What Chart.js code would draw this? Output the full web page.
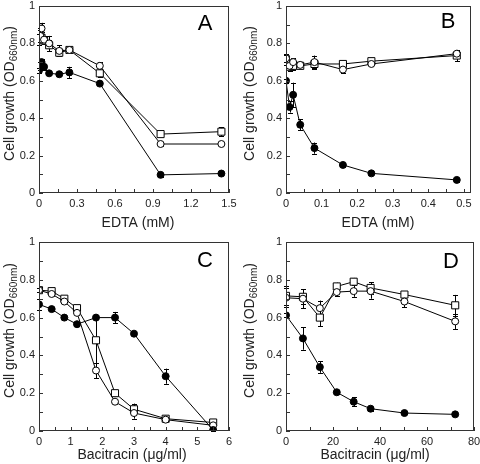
<!DOCTYPE html>
<html>
<head>
<meta charset="utf-8">
<script src="https://cdn.jsdelivr.net/npm/chart.js@4.4.0/dist/chart.umd.min.js"></script>
<style>
  body { margin: 0; background: #fff; }
  #wrap { position: relative; width: 480px; height: 464px; }
  canvas { position: absolute; }
</style>
</head>
<body>
<div id="wrap">
  <canvas id="chartA" width="240" height="232" style="left:0;top:0;width:240px;height:232px"></canvas>
  <canvas id="chartB" width="240" height="232" style="left:240px;top:0;width:240px;height:232px"></canvas>
  <canvas id="chartC" width="240" height="232" style="left:0;top:232px;width:240px;height:232px"></canvas>
  <canvas id="chartD" width="240" height="232" style="left:240px;top:232px;width:240px;height:232px"></canvas>
</div>
<script>
// ---- data ----
// panel A: EDTA (mM)
const edtaA = [0, 0.01, 0.02, 0.04, 0.08, 0.16, 0.24, 0.48, 0.96, 1.44];
const filledA = [0.655, 0.68, 0.70, 0.675, 0.64, 0.635, 0.645, 0.585, 0.097, 0.104];
const circleA = [0.82, 0.84, 0.88, 0.82, 0.80, 0.76, 0.765, 0.68, 0.262, 0.262];
const squareA = [0.82, 0.845, 0.83, 0.815, 0.79, 0.75, 0.765, 0.64, 0.315, 0.328];
const filledErrA = [0.015, 0.02, 0.015, 0.015, 0.01, 0.01, 0.03, 0.01, 0.01, 0.01];
const circleErrA = [0.03, 0.03, 0.03, 0.02, 0.04, 0.03, 0.01, 0.02, 0.01, 0.01];
const squareErrA = [0.03, 0.04, 0.03, 0.02, 0.03, 0.02, 0.01, 0.02, 0.01, 0.025];

// panel B: EDTA (mM)
const edtaB = [0, 0.01, 0.02, 0.04, 0.08, 0.16, 0.24, 0.48];
const filledB = [0.60, 0.46, 0.525, 0.365, 0.24, 0.15, 0.105, 0.07];
const circleB = [0.72, 0.68, 0.70, 0.685, 0.70, 0.66, 0.69, 0.745];
const squareB = [0.715, 0.675, 0.68, 0.68, 0.69, 0.69, 0.705, 0.735];
const filledErrB = [0.01, 0.03, 0.065, 0.03, 0.03, 0.01, 0.01, 0.01];
const circleErrB = [0.02, 0.03, 0.02, 0.015, 0.035, 0.02, 0.01, 0.02];
const squareErrB = [0.03, 0.02, 0.02, 0.01, 0.02, 0.01, 0.01, 0.03];

// panel C: Bacitracin (ug/ml)
const baciC = [0, 0.4, 0.8, 1.2, 1.8, 2.4, 3, 4, 5.5];
const filledC = [0.67, 0.645, 0.60, 0.565, 0.60, 0.60, 0.515, 0.29, 0.005];
const circleC = [0.745, 0.725, 0.685, 0.625, 0.32, 0.155, 0.095, 0.06, 0.03];
const squareC = [0.745, 0.74, 0.70, 0.65, 0.48, 0.20, 0.115, 0.065, 0.045];
const filledErrC = [0.03, 0.01, 0.01, 0.01, 0.01, 0.03, 0.01, 0.04, 0.005];
const circleErrC = [0.01, 0.01, 0.01, 0.01, 0.04, 0.01, 0.03, 0.01, 0.01];
const squareErrC = [0.01, 0.01, 0.01, 0.01, 0.12, 0.015, 0.03, 0.01, 0.01];

// panel D: Bacitracin (ug/ml)
const baciD = [0, 7.2, 14.4, 21.6, 28.8, 36, 50.4, 72];
const filledD = [0.612, 0.49, 0.338, 0.205, 0.155, 0.118, 0.095, 0.088];
const circleD = [0.705, 0.70, 0.65, 0.735, 0.74, 0.74, 0.685, 0.58];
const squareD = [0.715, 0.71, 0.60, 0.765, 0.79, 0.757, 0.722, 0.665];
const filledErrD = [0.01, 0.06, 0.03, 0.01, 0.025, 0.01, 0.005, 0.005];
const circleErrD = [0.05, 0.05, 0.04, 0.02, 0.03, 0.04, 0.03, 0.04];
const squareErrD = [0.05, 0.04, 0.045, 0.02, 0.02, 0.03, 0.015, 0.055];

// tick labels
const yTickLabels = ['0', '0.2', '0.4', '0.6', '0.8', '1'];
const xTickLabelsA = ['0', '0.3', '0.6', '0.9', '1.2', '1.5'];
const xTickLabelsB = ['0', '0.1', '0.2', '0.3', '0.4', '0.5'];
const xTickLabelsC = ['0', '1', '2', '3', '4', '5', '6'];
const xTickLabelsD = ['0', '20', '40', '60', '80'];

const FONT = '"Liberation Sans", Arial, Helvetica, sans-serif';

// majors from labels, plus a minor tick halfway between each pair
function tickValues(labels) {
    const majors = labels.map(Number);
    const out = [];
    majors.forEach((v, i) => {
        out.push(v);
        if (i < majors.length - 1) out.push((v + majors[i + 1]) / 2);
    });
    return out;
}

// error bars, frame, inward ticks, labels, titles and panel letter
const panelDecor = {
    id: 'panelDecor',
    beforeDatasetsDraw(chart) {
        const ctx = chart.ctx;
        const xs = chart.scales.x, ys = chart.scales.y;
        ctx.save();
        ctx.strokeStyle = '#000';
        ctx.lineWidth = 1;
        chart.data.datasets.forEach(ds => {
            ds.data.forEach((p, i) => {
                const e = ds.errors[i];
                const px = Math.round(xs.getPixelForValue(p.x)) + 0.5;
                const top = ys.getPixelForValue(p.y + e);
                const bot = ys.getPixelForValue(p.y - e);
                ctx.beginPath();
                ctx.moveTo(px, top); ctx.lineTo(px, bot);
                ctx.moveTo(px - 2.5, Math.round(top) + 0.5); ctx.lineTo(px + 2.5, Math.round(top) + 0.5);
                ctx.moveTo(px - 2.5, Math.round(bot) + 0.5); ctx.lineTo(px + 2.5, Math.round(bot) + 0.5);
                ctx.stroke();
            });
        });
        ctx.restore();
    },
    afterDraw(chart, args, opts) {
        const ctx = chart.ctx;
        const a = chart.chartArea;
        const xs = chart.scales.x, ys = chart.scales.y;
        ctx.save();
        ctx.strokeStyle = '#333';
        ctx.lineWidth = 1;
        ctx.strokeRect(a.left + 0.5, a.top + 0.5, a.right - a.left - 1, a.bottom - a.top - 1);

        // inward tick marks
        ctx.beginPath();
        tickValues(opts.xLabels).forEach(v => {
            const px = Math.round(xs.getPixelForValue(v)) + 0.5;
            ctx.moveTo(px, a.bottom); ctx.lineTo(px, a.bottom - 4);
        });
        tickValues(yTickLabels).forEach(v => {
            const py = Math.round(ys.getPixelForValue(v)) + 0.5;
            ctx.moveTo(a.left, py); ctx.lineTo(a.left + 4, py);
        });
        ctx.stroke();

        // tick labels
        ctx.fillStyle = '#222';
        ctx.font = '11px ' + FONT;
        ctx.textAlign = 'center';
        ctx.textBaseline = 'middle';
        opts.xLabels.forEach(l => {
            ctx.fillText(l, xs.getPixelForValue(Number(l)), a.bottom + 11);
        });
        ctx.textAlign = 'right';
        yTickLabels.forEach(l => {
            ctx.fillText(l, a.left - 4, ys.getPixelForValue(Number(l)));
        });

        // x title
        ctx.font = '14px ' + FONT;
        ctx.textAlign = 'center';
        ctx.textBaseline = 'alphabetic';
        ctx.fillText(opts.xTitle, opts.xTitleX, 227);

        // y title with subscript
        const main = 'Cell growth (OD', sub = '660nm', end = ')';
        ctx.font = '14px ' + FONT;
        const w1 = ctx.measureText(main).width;
        const w3 = ctx.measureText(end).width;
        ctx.font = '10px ' + FONT;
        const w2 = ctx.measureText(sub).width;
        const total = w1 + w2 + w3;
        ctx.translate(14, (a.top + a.bottom) / 2 - 6);
        ctx.rotate(-Math.PI / 2);
        ctx.textAlign = 'left';
        ctx.font = '14px ' + FONT;
        ctx.fillText(main, -total / 2, 0);
        ctx.font = '10px ' + FONT;
        ctx.fillText(sub, -total / 2 + w1, 3);
        ctx.font = '14px ' + FONT;
        ctx.fillText(end, -total / 2 + w1 + w2, 0);
        ctx.setTransform(1, 0, 0, 1, 0, 0);

        // panel letter
        ctx.font = '22px ' + FONT;
        ctx.textAlign = 'center';
        ctx.fillStyle = '#000';
        ctx.fillText(opts.letter, opts.letterX, opts.letterY);
        ctx.restore();
    }
};

function series(xs, ys, errs, style, fill) {
    return {
        data: xs.map((x, i) => ({ x: x, y: ys[i] })),
        errors: errs,
        borderColor: '#000',
        borderWidth: 1,
        pointStyle: style,
        pointRadius: style === 'rect' ? 5 : 3.5,
        pointBorderWidth: 1,
        pointBorderColor: '#000',
        pointBackgroundColor: fill,
        tension: 0
    };
}

function makePanel(id, p) {
    return new Chart(document.getElementById(id), {
        type: 'line',
        data: {
            datasets: [
                series(p.xs, p.filled, p.filledErr, 'circle', '#000'),
                series(p.xs, p.circle, p.circleErr, 'circle', '#fff'),
                series(p.xs, p.square, p.squareErr, 'rect', '#fff')
            ]
        },
        options: {
            responsive: false,
            animation: false,
            layout: { padding: { left: 0, top: p.top, right: 240 - p.right, bottom: 0 } },
            plugins: {
                legend: { display: false },
                tooltip: { enabled: false },
                panelDecor: {
                    xLabels: p.xLabels, xTitle: p.xTitle, xTitleX: p.xTitleX,
                    letter: p.letter, letterX: p.letterX, letterY: p.letterY
                }
            },
            scales: {
                x: {
                    type: 'linear',
                    min: 0,
                    max: p.xMax,
                    grid: { display: false },
                    border: { display: false },
                    ticks: { display: false },
                    afterFit: s => { s.height = 232 - p.bottom; s.paddingLeft = 0; s.paddingRight = 0; }
                },
                y: {
                    min: 0,
                    max: 1,
                    grid: { display: false },
                    border: { display: false },
                    ticks: { display: false },
                    afterFit: s => { s.width = p.left; s.paddingTop = 0; s.paddingBottom = 0; }
                }
            }
        },
        plugins: [panelDecor]
    });
}

makePanel('chartA', {
    xs: edtaA, filled: filledA, circle: circleA, square: squareA,
    filledErr: filledErrA, circleErr: circleErrA, squareErr: squareErrA,
    xLabels: xTickLabelsA, xMax: 1.5, xTitle: 'EDTA (mM)', xTitleX: 138,
    left: 39, right: 229, top: 3, bottom: 193,
    letter: 'A', letterX: 205, letterY: 30
});
makePanel('chartB', {
    xs: edtaB, filled: filledB, circle: circleB, square: squareB,
    filledErr: filledErrB, circleErr: circleErrB, squareErr: squareErrB,
    xLabels: xTickLabelsB, xMax: 0.52, xTitle: 'EDTA (mM)', xTitleX: 138,
    left: 46, right: 231, top: 2, bottom: 193,
    letter: 'B', letterX: 208, letterY: 28
});
makePanel('chartC', {
    xs: baciC, filled: filledC, circle: circleC, square: squareC,
    filledErr: filledErrC, circleErr: circleErrC, squareErr: squareErrC,
    xLabels: xTickLabelsC, xMax: 6, xTitle: 'Bacitracin (μg/ml)', xTitleX: 132,
    left: 39, right: 229, top: 10, bottom: 199,
    letter: 'C', letterX: 205, letterY: 35
});
makePanel('chartD', {
    xs: baciD, filled: filledD, circle: circleD, square: squareD,
    filledErr: filledErrD, circleErr: circleErrD, squareErr: squareErrD,
    xLabels: xTickLabelsD, xMax: 80, xTitle: 'Bacitracin (μg/ml)', xTitleX: 135,
    left: 46, right: 236, top: 10, bottom: 199,
    letter: 'D', letterX: 211, letterY: 36
});
</script>
</body>
</html>
